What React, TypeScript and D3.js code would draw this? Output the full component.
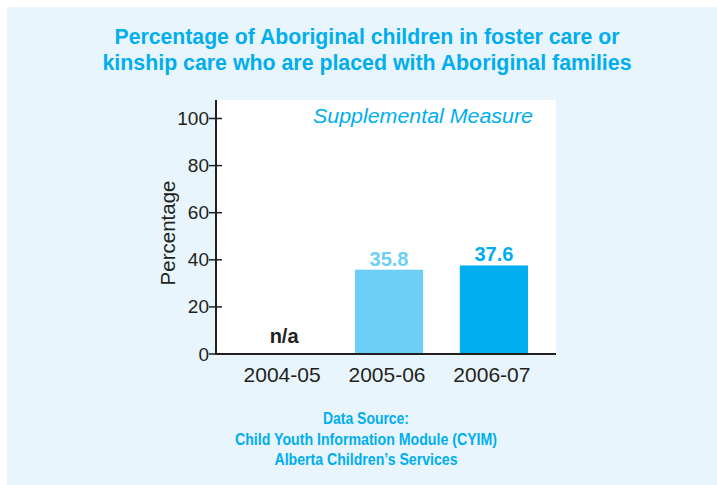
import React from "react";
import * as d3 from "d3";

const categories = ["2004-05", "2005-06", "2006-07"];
const values: (number | null)[] = [null, 35.8, 37.6];
const valueLabels = ["n/a", "35.8", "37.6"];
const yTicks = [0, 20, 40, 60, 80, 100];
const titleLines = [
  "Percentage of Aboriginal children in foster care or",
  "kinship care who are placed with Aboriginal families",
];
const titleWidths = [505, 529];
const sourceLines = [
  "Data Source:",
  "Child Youth Information Module (CYIM)",
  "Alberta Children\u2019s Services",
];
const sourceWidths = [86, 262, 183];

const W = 717;
const H = 485;
const BLUE = "#00AEEF";
const LIGHT = "#6DCFF6";
const DARK = "#231F20";
const BG = "#E8F5FC";

export default function App() {
  const plotLeft = 216;
  const plotRight = 556;
  const plotTop = 100;
  const plotBottom = 354;

  const x = d3
    .scaleBand<string>()
    .domain(categories)
    .range([250, 528])
    .paddingInner(0.35)
    .paddingOuter(0);
  const y = d3.scaleLinear().domain([0, 100]).range([plotBottom, 118.5]);

  const barColors = [DARK, LIGHT, BLUE];
  const sans = "'Liberation Sans', Arial, Helvetica, sans-serif";

  return (
    <svg
      width={W}
      height={H}
      style={{ position: "absolute", left: 0, top: 0 }}
      xmlns="http://www.w3.org/2000/svg"
    >
      <rect x={0} y={0} width={W} height={H} fill="#ffffff" />
      <rect x={7} y={7} width={W - 7} height={H - 7} fill={BG} />
      {titleLines.map((t, i) => (
        <text
          key={t}
          x={367}
          y={44 + i * 26}
          textAnchor="middle"
          fontFamily={sans}
          fontWeight="bold"
          fontSize={21.5}
          textLength={titleWidths[i]}
          lengthAdjust="spacingAndGlyphs"
          fill={BLUE}
        >
          {t}
        </text>
      ))}
      <rect
        x={plotLeft}
        y={plotTop}
        width={plotRight - plotLeft}
        height={plotBottom - plotTop}
        fill="#ffffff"
      />
      <text
        x={533}
        y={123}
        textAnchor="end"
        fontFamily={sans}
        fontStyle="italic"
        fontSize={20.5}
        textLength={220}
        lengthAdjust="spacingAndGlyphs"
        fill={BLUE}
      >
        Supplemental Measure
      </text>
      {categories.map((c, i) => {
        const v = values[i];
        const cx = (x(c) as number) + x.bandwidth() / 2;
        return (
          <g key={c}>
            {v !== null && (
              <rect
                x={x(c)}
                y={y(v)}
                width={x.bandwidth()}
                height={y(0) - y(v)}
                fill={barColors[i]}
              />
            )}
            <text
              x={cx}
              y={v !== null ? y(v) - 4 : 343}
              textAnchor="middle"
              fontFamily={sans}
              fontWeight="bold"
              fontSize={20}
              fill={barColors[i]}
            >
              {valueLabels[i]}
            </text>
            <text
              x={cx - 2}
              y={382}
              textAnchor="middle"
              fontFamily={sans}
              fontSize={21}
              fill={DARK}
            >
              {c}
            </text>
          </g>
        );
      })}
      {yTicks.map((t) => (
        <g key={t}>
          <line x1={209} x2={222} y1={y(t)} y2={y(t)} stroke={DARK} strokeWidth={1.5} />
          <text
            x={209}
            y={y(t) + 6.5}
            textAnchor="end"
            fontFamily={sans}
            fontSize={19}
            fill={DARK}
          >
            {t}
          </text>
        </g>
      ))}
      <line x1={plotLeft} x2={plotLeft} y1={plotTop} y2={plotBottom + 1} stroke={DARK} strokeWidth={2} />
      <line x1={plotLeft - 1} x2={plotRight} y1={plotBottom} y2={plotBottom} stroke={DARK} strokeWidth={2} />
      <text
        transform={`translate(175,233) rotate(-90)`}
        textAnchor="middle"
        fontFamily={sans}
        fontSize={20.5}
        fill={DARK}
      >
        Percentage
      </text>
      {sourceLines.map((t, i) => (
        <text
          key={t}
          x={366}
          y={424 + i * 20.5}
          textAnchor="middle"
          fontFamily={sans}
          fontWeight="bold"
          fontSize={16}
          textLength={sourceWidths[i]}
          lengthAdjust="spacingAndGlyphs"
          fill={BLUE}
        >
          {t}
        </text>
      ))}
    </svg>
  );
}
